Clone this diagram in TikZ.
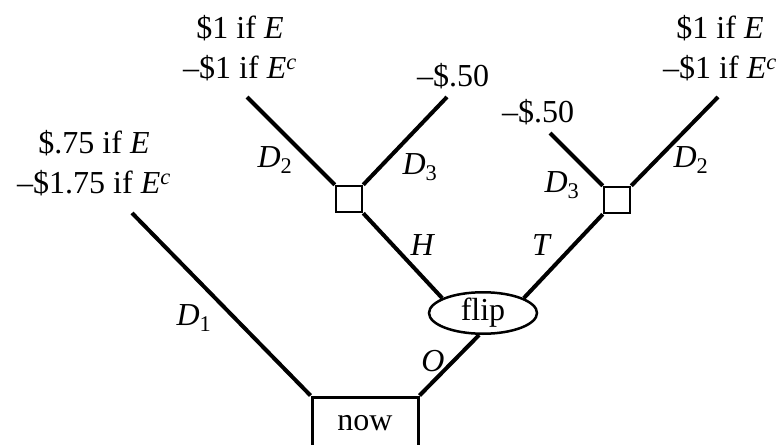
\documentclass[tikz,border=0pt]{standalone}
\usepackage{fontspec}
\setmainfont{Liberation Serif}
\usetikzlibrary{shapes.geometric}
\tikzset{
  branch/.style={line width=4pt},
  choice/.style={rectangle, draw, line width=2.5pt, minimum size=26pt, inner sep=0pt},
  chance/.style={ellipse, draw, line width=2.5pt, minimum width=108pt,
                 minimum height=37pt, inner sep=0pt},
  startbox/.style={rectangle, draw, line width=3pt, minimum width=106pt,
                   minimum height=52pt, inner sep=0pt},
  payoff/.style={align=center, inner sep=0pt},
  lbl/.style={inner sep=0pt},
}
\newcommand{\Ev}{\textit{E}}
\newcommand{\Ec}{\textit{E}\textsuperscript{\textit{c}}}
\newcommand{\Dn}[1]{\textit{D}\textsubscript{#1}}

\begin{document}
\begin{tikzpicture}[x=1pt, y=-1pt, font=\fontsize{32}{40}\selectfont]
  \clip (0,0) rectangle (778,444);
  \node[startbox] (now) at (365,423) {now};
  \node[chance] (flip) at (483,313) {flip};
  \node[choice] (h) at (349,199) {};
  \node[choice] (t) at (617,200) {};
  \coordinate (e1) at (132,213);
  \coordinate (hl) at (247,97);
  \coordinate (hr) at (447,97);
  \coordinate (tl) at (550,133);
  \coordinate (tr) at (718,97);
  \draw[branch] (now.north west) -- (e1);
  \draw[branch] (now.north east) -- (flip.260);
  \draw[branch] (flip.160) -- (h.south east);
  \draw[branch] (flip.20) -- (t.south west);
  \draw[branch] (h.north west) -- (hl);
  \draw[branch] (h.north east) -- (hr);
  \draw[branch] (t.north west) -- (tl);
  \draw[branch] (t.north east) -- (tr);
  \node[payoff] (p1) at (94,163) {\$.75 if \Ev\\--\$1.75 if \Ec};
  \node[payoff] (p2) at (240,48) {\$1 if \Ev\\--\$1 if \Ec};
  \node[payoff] (p3) at (453,76) {--\$.50};
  \node[payoff] (p4) at (538,112) {--\$.50};
  \node[payoff] (p5) at (720,48) {\$1 if \Ev\\--\$1 if \Ec};
  \node[lbl] (d1) at (194,318) {\Dn{1}};
  \node[lbl] (o) at (433,361) {\textit{O}};
  \node[lbl] (hh) at (423,245) {\textit{H}};
  \node[lbl] (tt) at (542,245) {\textit{T}};
  \node[lbl] (d2a) at (275,160) {\Dn{2}};
  \node[lbl] (d3a) at (420,167) {\Dn{3}};
  \node[lbl] (d3b) at (562,185) {\Dn{3}};
  \node[lbl] (d2b) at (691,160) {\Dn{2}};
\end{tikzpicture}
\end{document}
